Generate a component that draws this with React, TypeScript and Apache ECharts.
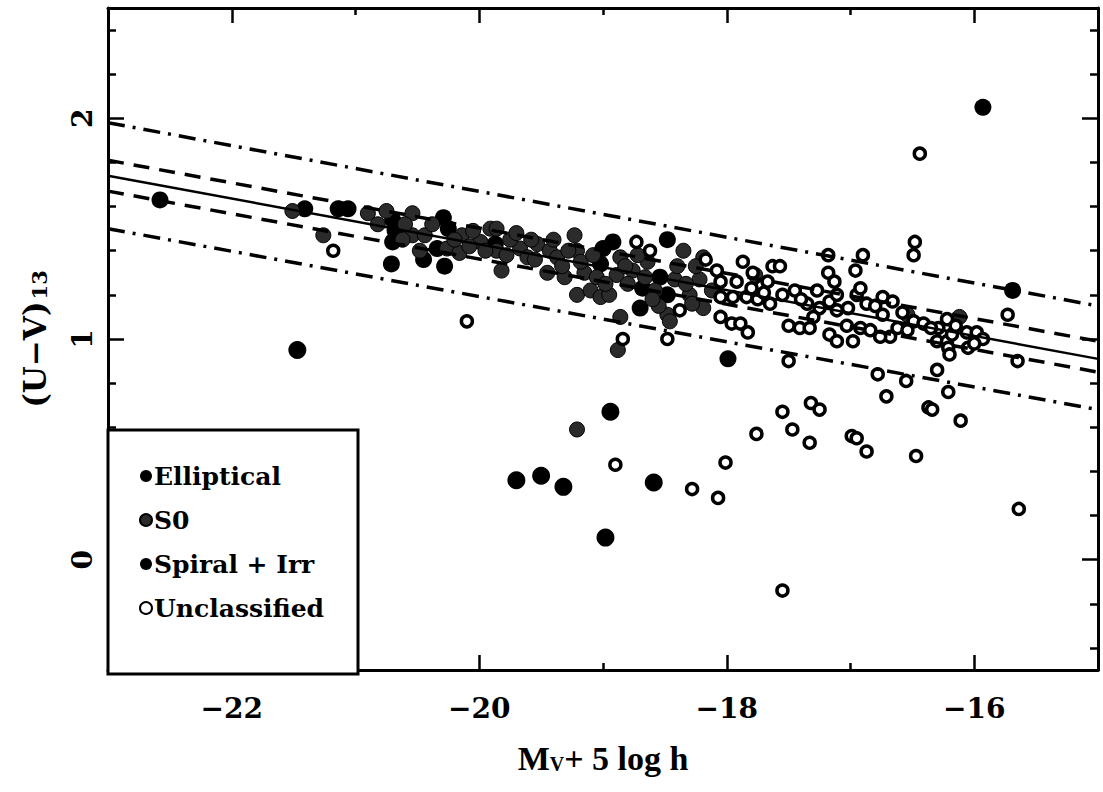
import React, { useEffect, useRef } from 'react';
import * as echarts from 'echarts';

// ---- data (x = M_V + 5 log h, y = (U-V)_13) ----
const ellipticalPts: number[][] = [
  [-22.58, 1.63], [-21.41, 1.59], [-21.14, 1.59], [-21.06, 1.59], [-20.70, 1.54],
  [-20.68, 1.49], [-20.70, 1.44], [-20.71, 1.34], [-20.45, 1.36], [-20.28, 1.33],
  [-20.29, 1.55], [-20.25, 1.50], [-20.34, 1.41], [-19.87, 1.43], [-19.00, 1.41],
  [-18.92, 1.44], [-19.02, 1.34], [-18.68, 1.23], [-18.48, 1.45], [-18.48, 1.20],
  [-18.70, 1.14], [-18.54, 1.28], [-17.99, 0.91], [-15.69, 1.22], [-15.93, 2.05],
];
const s0Pts: number[][] = [
  [-21.51, 1.58], [-20.90, 1.57], [-21.26, 1.47], [-20.54, 1.57], [-20.54, 1.47],
  [-20.44, 1.47], [-20.26, 1.41], [-20.14, 1.47], [-20.16, 1.39], [-19.99, 1.44],
  [-19.91, 1.50], [-19.86, 1.40], [-19.86, 1.50], [-19.82, 1.31], [-19.67, 1.41],
  [-19.61, 1.37], [-19.53, 1.43], [-19.43, 1.40], [-19.37, 1.37], [-19.23, 1.47],
  [-19.21, 1.40], [-19.31, 1.28], [-19.21, 1.20], [-19.10, 1.22], [-19.02, 1.19],
  [-18.89, 1.29], [-18.86, 1.37], [-18.76, 1.31], [-18.64, 1.35], [-18.35, 1.40],
  [-18.30, 1.20], [-18.48, 1.11], [-18.46, 1.08], [-18.86, 1.10], [-18.88, 0.95],
  [-18.19, 1.37], [-18.22, 1.27], [-18.19, 1.14], [-19.21, 0.59], [-16.54, 1.11],
  [-16.12, 1.10], [-17.77, 1.29], [-20.82, 1.52], [-20.60, 1.52], [-20.38, 1.52],
  [-20.05, 1.49], [-19.95, 1.40], [-19.75, 1.45], [-19.55, 1.36], [-19.45, 1.30],
  [-19.28, 1.40], [-19.15, 1.30], [-19.05, 1.28], [-18.95, 1.20], [-18.80, 1.25],
  [-18.58, 1.22], [-18.42, 1.27], [-18.25, 1.33], [-18.12, 1.22], [-18.55, 1.15],
  [-20.75, 1.58], [-20.62, 1.45], [-20.48, 1.40], [-20.20, 1.45], [-20.08, 1.42],
  [-19.78, 1.38], [-19.70, 1.48], [-19.58, 1.45], [-19.40, 1.45], [-19.33, 1.33],
  [-19.18, 1.35], [-19.08, 1.38], [-18.98, 1.25], [-18.82, 1.33], [-18.72, 1.38],
  [-18.66, 1.28], [-18.40, 1.33], [-18.33, 1.25], [-18.28, 1.16], [-18.60, 1.18],
];
const spiralPts: number[][] = [
  [-21.47, 0.95], [-18.94, 0.67], [-19.70, 0.36], [-19.50, 0.38], [-19.32, 0.33],
  [-18.98, 0.10], [-18.59, 0.35],
];
const unclassifiedPts: number[][] = [
  [-21.18, 1.40], [-20.10, 1.08], [-18.84, 1.00], [-18.73, 1.44], [-18.62, 1.40],
  [-18.38, 1.13], [-18.48, 1.00], [-18.90, 0.43], [-18.08, 1.31], [-18.05, 1.26],
  [-17.92, 1.26], [-17.79, 1.30], [-17.72, 1.24], [-17.67, 1.26], [-17.63, 1.33],
  [-17.57, 1.33], [-18.05, 1.19], [-17.95, 1.19], [-17.84, 1.19], [-17.75, 1.18],
  [-17.65, 1.16], [-18.05, 1.10], [-17.96, 1.07], [-17.89, 1.07], [-17.83, 1.03],
  [-17.50, 1.06], [-17.45, 1.22], [-17.41, 1.05], [-17.33, 1.05], [-17.35, 1.16],
  [-17.27, 1.22], [-17.25, 1.14], [-17.17, 1.17], [-17.11, 1.13], [-17.11, 1.20],
  [-17.18, 1.30], [-17.13, 1.26], [-17.18, 1.38], [-16.90, 1.38], [-16.96, 1.31],
  [-17.17, 1.02], [-17.11, 0.99], [-16.98, 0.99], [-17.03, 1.06], [-16.95, 1.20],
  [-16.92, 1.23], [-16.87, 1.16], [-16.74, 1.19], [-16.74, 1.11], [-16.68, 1.01],
  [-16.62, 1.05], [-16.92, 1.05], [-16.84, 1.04], [-16.66, 1.17], [-16.49, 1.08],
  [-16.41, 1.07], [-16.76, 1.01], [-16.54, 1.04], [-16.29, 1.05], [-16.22, 1.09],
  [-16.30, 0.99], [-16.22, 0.99], [-16.18, 1.02], [-16.21, 0.96], [-16.20, 0.93],
  [-16.06, 1.03], [-15.98, 1.03], [-16.05, 0.96], [-15.73, 1.11], [-15.65, 0.90],
  [-16.48, 1.44], [-16.49, 1.38], [-16.44, 1.84], [-17.50, 0.90], [-16.78, 0.84],
  [-16.71, 0.74], [-16.55, 0.81], [-16.30, 0.86], [-16.21, 0.76], [-16.37, 0.69],
  [-16.34, 0.68], [-16.11, 0.63], [-16.47, 0.47], [-15.64, 0.23], [-17.55, -0.14],
  [-18.28, 0.32], [-18.07, 0.28], [-18.01, 0.44], [-17.76, 0.57], [-17.55, 0.67],
  [-17.47, 0.59], [-17.33, 0.53], [-17.32, 0.71], [-17.25, 0.68], [-16.99, 0.56],
  [-16.95, 0.55], [-16.87, 0.49], [-18.17, 1.36], [-17.87, 1.35], [-15.93, 1.00],
  [-16.00, 0.98], [-17.80, 1.23], [-17.70, 1.21], [-17.55, 1.20], [-17.40, 1.18],
  [-17.30, 1.10], [-17.02, 1.14], [-16.80, 1.15], [-16.58, 1.12], [-16.35, 1.05],
  [-16.15, 1.06],
];

const fitX = [-23, -15];
const fitSolid = [1.74, 0.91];
const fitDashUpper = [1.81, 0.99];
const fitDashLower = [1.67, 0.85];
const fitDotUpper = [1.98, 1.15];
const fitDotLower = [1.5, 0.68];

const xMajorTicks = [-22, -20, -18, -16];
const xMinorTicks = [-21, -19, -17];
const yMajorTicks = [0, 1, 2];
const yMinorTicks = [-0.4, -0.2, 0.2, 0.4, 0.6, 0.8, 1.2, 1.4, 1.6, 1.8, 2.2, 2.4];

const legendNames = ['Elliptical', 'S0', 'Spiral + Irr', 'Unclassified'];

const FONT = 'DejaVu Serif';

function line(ys: number[]) {
  return fitX.map((x, i) => [x, ys[i]]);
}

export default function App() {
  const ref = useRef<HTMLDivElement>(null);
  useEffect(() => {
    if (!ref.current) return;
    const chart = echarts.init(ref.current, undefined, { renderer: 'svg' });
    const axisLine = { show: true, onZero: false, lineStyle: { color: '#000', width: 3 } };
    const noLine = { show: false, onZero: false };
    const xBase = { type: 'value', min: -23, max: -15, splitLine: { show: false } };
    const yBase = { type: 'value', min: -0.5, max: 2.5, splitLine: { show: false } };
    const tickStyle = { color: '#000', width: 2.5 };
    const labelFont = { fontFamily: FONT, fontWeight: 'bold', fontSize: 28, color: '#000' };
    const fitLine = (name: string, ys: number[], width: number, type: any) => ({
      name,
      type: 'line',
      data: line(ys),
      symbol: 'none',
      silent: true,
      z: 5,
      lineStyle: { color: '#000', width, type },
    });
    chart.setOption({
      animation: false,
      backgroundColor: '#fff',
      grid: { left: 108, right: 5, top: 8, bottom: 118, containLabel: false },
      xAxis: [
        {
          ...xBase,
          position: 'bottom',
          axisLine,
          axisTick: { show: true, inside: true, length: 15, lineStyle: tickStyle, customValues: xMajorTicks },
          axisLabel: {
            ...labelFont,
            margin: 24,
            customValues: xMajorTicks,
            formatter: (v: number) => '\u2212' + Math.abs(v),
          },
          name: '{m|M}{s|V}{m|+ 5 log h}',
          nameLocation: 'middle',
          nameGap: 77,
          nameTextStyle: {
            rich: {
              m: { fontFamily: 'Liberation Serif', fontWeight: 'bold', fontSize: 34, lineHeight: 34, padding: [0, 0, 12, 0], color: '#000' },
              s: { fontFamily: 'Liberation Serif', fontWeight: 'bold', fontSize: 20, lineHeight: 20, color: '#000' },
            },
          },
        },
        {
          ...xBase,
          position: 'bottom',
          axisLine: noLine,
          axisTick: { show: true, inside: true, length: 7, lineStyle: tickStyle, customValues: xMinorTicks },
          axisLabel: { show: false },
        },
        {
          ...xBase,
          position: 'top',
          axisLine,
          axisTick: { show: true, inside: true, length: 15, lineStyle: tickStyle, customValues: xMajorTicks },
          axisLabel: { show: false },
        },
        {
          ...xBase,
          position: 'top',
          axisLine: noLine,
          axisTick: { show: true, inside: true, length: 7, lineStyle: tickStyle, customValues: xMinorTicks },
          axisLabel: { show: false },
        },
      ],
      yAxis: [
        {
          ...yBase,
          position: 'left',
          axisLine,
          axisTick: { show: true, inside: true, length: 16, lineStyle: tickStyle, customValues: yMajorTicks },
          axisLabel: {
            ...labelFont,
            rotate: 90,
            margin: 12,
            customValues: yMajorTicks,
            formatter: (v: number) => String(v),
          },
          name: '{m|(U\u2212V)}{s|13}',
          nameLocation: 'middle',
          nameGap: 50,
          nameTextStyle: {
            rich: {
              m: { fontFamily: FONT, fontWeight: 'bold', fontSize: 31, lineHeight: 31, padding: [0, 0, 10, 0], color: '#000' },
              s: { fontFamily: FONT, fontWeight: 'bold', fontSize: 21, lineHeight: 21, padding: [0, 0, 0, 2], color: '#000' },
            },
          },
        },
        {
          ...yBase,
          position: 'left',
          axisLine: noLine,
          axisTick: { show: true, inside: true, length: 8, lineStyle: tickStyle, customValues: yMinorTicks },
          axisLabel: { show: false },
        },
        {
          ...yBase,
          position: 'right',
          axisLine,
          axisTick: { show: true, inside: true, length: 16, lineStyle: tickStyle, customValues: yMajorTicks },
          axisLabel: { show: false },
        },
        {
          ...yBase,
          position: 'right',
          axisLine: noLine,
          axisTick: { show: true, inside: true, length: 8, lineStyle: tickStyle, customValues: yMinorTicks },
          axisLabel: { show: false },
        },
      ],
      legend: {
        data: legendNames,
        orient: 'vertical',
        left: 139,
        top: 463,
        padding: 0,
        itemWidth: 12,
        itemHeight: 12,
        itemGap: 18,
        icon: 'circle',
        z: 20,
        selectedMode: false,
        textStyle: { fontFamily: FONT, fontWeight: 'bold', fontSize: 25, lineHeight: 26, color: '#000', padding: [0, 0, 0, -3] },
      },
      graphic: [
        {
          type: 'rect',
          z: 15,
          shape: { x: 108, y: 430, width: 250, height: 244 },
          style: { fill: '#fff', stroke: '#000', lineWidth: 3 },
        },
      ],
      series: [
        {
          name: 'Elliptical',
          type: 'scatter',
          data: ellipticalPts,
          symbolSize: 17,
          z: 3,
          itemStyle: { color: '#000', opacity: 1 },
        },
        {
          name: 'S0',
          type: 'scatter',
          data: s0Pts,
          symbolSize: 15,
          z: 3,
          itemStyle: { color: '#2b2b2b', borderColor: '#000', borderWidth: 1, opacity: 1 },
        },
        {
          name: 'Spiral + Irr',
          type: 'scatter',
          data: spiralPts,
          symbolSize: 18,
          z: 3,
          itemStyle: { color: '#000', opacity: 1 },
        },
        {
          name: 'Unclassified',
          type: 'scatter',
          data: unclassifiedPts,
          symbolSize: 11,
          z: 4,
          itemStyle: { color: '#fff', borderColor: '#000', borderWidth: 3.5, opacity: 1 },
        },
        fitLine('fit', fitSolid, 2.5, 'solid'),
        fitLine('dashU', fitDashUpper, 3.5, [16, 10]),
        fitLine('dashL', fitDashLower, 3.5, [16, 10]),
        fitLine('dotU', fitDotUpper, 3.5, [17, 8, 3, 8]),
        fitLine('dotL', fitDotLower, 3.5, [17, 8, 3, 8]),
      ],
    });
    return () => chart.dispose();
  }, []);
  return (
    <div
      ref={ref}
      style={{ position: 'absolute', left: 0, top: 0, width: 1103, height: 792, overflow: 'hidden', background: '#fff' }}
    />
  );
}
